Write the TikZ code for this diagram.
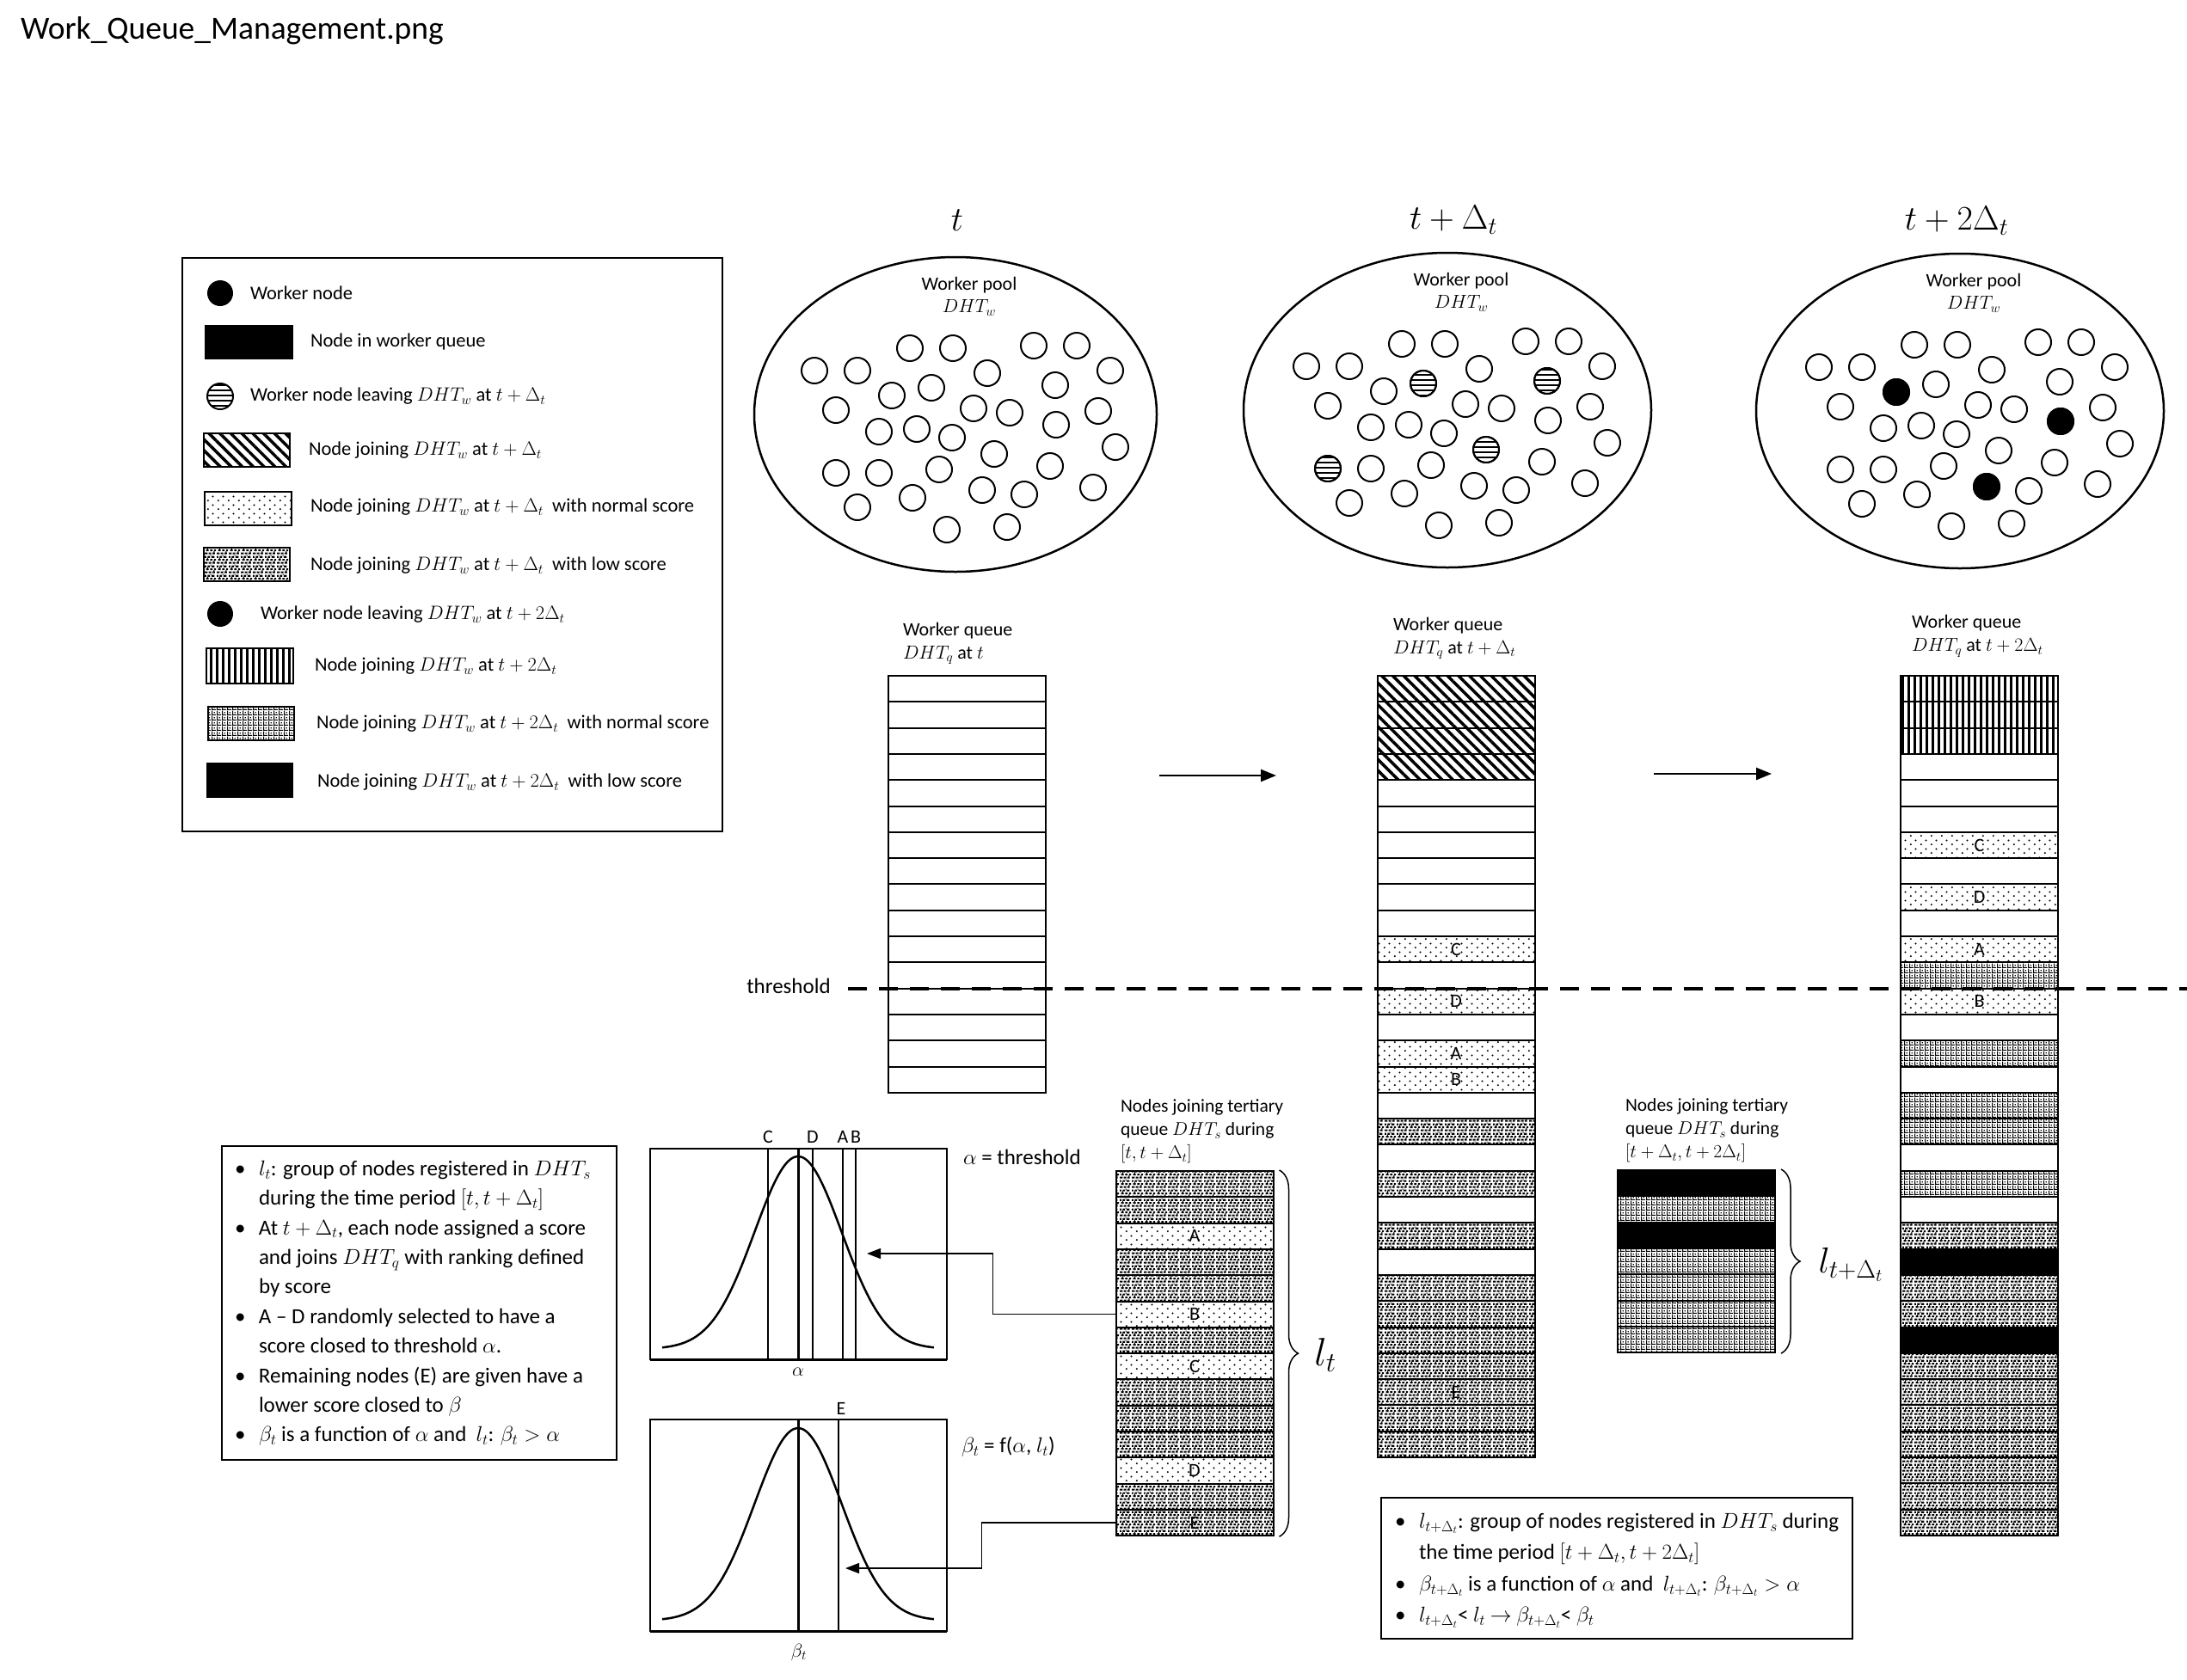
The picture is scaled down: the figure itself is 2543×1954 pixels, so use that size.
\documentclass[tikz,border=0pt]{standalone}
\usepackage{fix-cm}
\usepackage{fontspec}
\setmainfont{Carlito}
\usepackage{amsmath}
\usetikzlibrary{positioning, patterns, patterns.meta, arrows.meta, decorations.pathreplacing}

\pgfdeclarepatternformonly{sparsedots}{\pgfqpoint{0pt}{0pt}}{\pgfqpoint{12pt}{10pt}}{\pgfqpoint{12pt}{10pt}}{%
  \pgfpathcircle{\pgfqpoint{2pt}{2pt}}{1.2pt}%
  \pgfpathcircle{\pgfqpoint{8pt}{7pt}}{1.2pt}%
  \pgfusepath{fill}%
}
\pgfdeclarepatternformonly{confetti}{\pgfqpoint{0pt}{0pt}}{\pgfqpoint{14pt}{11pt}}{\pgfqpoint{14pt}{11pt}}{%
  \pgfpathrectangle{\pgfqpoint{0pt}{0.3pt}}{\pgfqpoint{3.5pt}{2.2pt}}%
  \pgfpathrectangle{\pgfqpoint{5pt}{0.3pt}}{\pgfqpoint{3pt}{2.2pt}}%
  \pgfpathrectangle{\pgfqpoint{9.5pt}{0.3pt}}{\pgfqpoint{3pt}{2.2pt}}%
  \pgfpathrectangle{\pgfqpoint{1.8pt}{4pt}}{\pgfqpoint{3pt}{2.2pt}}%
  \pgfpathrectangle{\pgfqpoint{6.8pt}{4pt}}{\pgfqpoint{3pt}{2.2pt}}%
  \pgfpathrectangle{\pgfqpoint{11.5pt}{4pt}}{\pgfqpoint{2.5pt}{2.2pt}}%
  \pgfpathrectangle{\pgfqpoint{0pt}{7.7pt}}{\pgfqpoint{2pt}{2.2pt}}%
  \pgfpathrectangle{\pgfqpoint{3.5pt}{7.7pt}}{\pgfqpoint{3pt}{2.2pt}}%
  \pgfpathrectangle{\pgfqpoint{8.5pt}{7.7pt}}{\pgfqpoint{3.5pt}{2.2pt}}%
  \pgfpathrectangle{\pgfqpoint{11pt}{2.5pt}}{\pgfqpoint{1.2pt}{1.5pt}}%
  \pgfpathrectangle{\pgfqpoint{3pt}{6.2pt}}{\pgfqpoint{1.2pt}{1.5pt}}%
  \pgfpathrectangle{\pgfqpoint{7pt}{9.9pt}}{\pgfqpoint{1.2pt}{1.1pt}}%
  \pgfusepath{fill}%
}
\pgfdeclarepatternformonly{plaid}{\pgfqpoint{0pt}{0pt}}{\pgfqpoint{6pt}{6pt}}{\pgfqpoint{6pt}{6pt}}{%
  \pgfpathrectangle{\pgfqpoint{0pt}{0pt}}{\pgfqpoint{6pt}{1.4pt}}%
  \pgfpathrectangle{\pgfqpoint{0pt}{0pt}}{\pgfqpoint{1.4pt}{6pt}}%
  \pgfpathrectangle{\pgfqpoint{3pt}{3pt}}{\pgfqpoint{1.5pt}{1.5pt}}%
  \pgfusepath{fill}%
}

\newcommand{\notebullet}{\makebox[28pt][l]{\textbullet}}
\newcommand{\noteindent}{\hspace*{28pt}}

\begin{document}
\begin{tikzpicture}[
    x=1pt, y=-1pt,
    font=\fontsize{22.5}{27}\selectfont,
    line width=2pt,
    every node/.style={inner sep=0pt},
    hatch fill/.style={pattern={Lines[angle=-45,distance=9pt,line width=3.5pt]}},
    dot fill/.style={pattern=sparsedots},
    low fill/.style={pattern=confetti},
    vbar fill/.style={pattern={Lines[angle=90,distance=7pt,line width=3pt]}},
    grid fill/.style={pattern=plaid},
    stripe fill/.style={pattern={Lines[angle=0,distance=6pt,line width=1.5pt]}},
    cell/.style={draw, rectangle, minimum width=183pt, minimum height=30.3pt, font=\fontsize{22}{26}\selectfont},
    empty cell/.style={cell},
    hatch cell/.style={cell, hatch fill},
    dot cell/.style={cell, dot fill},
    low cell/.style={cell, low fill},
    vbar cell/.style={cell, vbar fill},
    grid cell/.style={cell, grid fill},
    black cell/.style={cell, fill=black},
    pool/.style={line width=2.5pt},
    worker/.style={line width=2pt},
    arrow/.style={->, >={Triangle[length=18pt,width=14pt]}, line width=2.5pt},
    thin arrow/.style={->, >={Triangle[length=16pt,width=12pt]}, line width=1.3pt},
    frame/.style={line width=1.5pt},
    curve/.style={line width=2.5pt},
    threshold line/.style={dash pattern=on 22pt off 14pt, line width=4.5pt},
    brace/.style={decorate, decoration={brace, amplitude=22pt}, line width=1.5pt},
    note/.style={anchor=north west, align=left, font=\fontsize{25}{34.4}\selectfont},
    time label/.style={font=\fontsize{40}{46}\selectfont},
    small label/.style={font=\fontsize{22}{26}\selectfont}
]

\path[use as bounding box, fill=white] (0,0) rectangle (2543,1954);

\node[anchor=west, font=\fontsize{37.5}{44}\selectfont] (title) at (23,36) {Work\_Queue\_Management.png};

\draw (212,300) rectangle (840,967);
\fill (256,341) circle [radius=15];
\node[anchor=west] (leg-worker) at (290,341) {Worker node};
\fill (238,378) rectangle (341,418);
\node[anchor=west] (leg-queue) at (360,397) {Node in worker queue};
\draw[stripe fill] (256,461) circle [radius=15];
\node[anchor=west] (leg-leave1) at (290,461) {Worker node leaving $DHT_w$ at $t+\Delta_t$};
\draw[hatch fill] (237,504) rectangle (337,543);
\node[anchor=west] (leg-join1) at (358,524) {Node joining $DHT_w$ at $t+\Delta_t$};
\draw[dot fill] (238,572) rectangle (339,611);
\node[anchor=west] (leg-norm1) at (360,590) {Node joining $DHT_w$ at $t+\Delta_t$\ \ with normal score};
\draw[low fill] (237,637) rectangle (337,676);
\node[anchor=west] (leg-low1) at (360,658) {Node joining $DHT_w$ at $t+\Delta_t$\ \ with low score};
\fill (256,714) circle [radius=15];
\node[anchor=west] (leg-leave2) at (302,715) {Worker node leaving $DHT_w$ at $t+2\Delta_t$};
\draw[vbar fill] (240,754) rectangle (341,795);
\node[anchor=west] (leg-join2) at (365,775) {Node joining $DHT_w$ at $t+2\Delta_t$};
\draw[grid fill] (242,822) rectangle (342,861);
\node[anchor=west] (leg-norm2) at (367,842) {Node joining $DHT_w$ at $t+2\Delta_t$\ \ with normal score};
\fill (240,887) rectangle (341,928);
\node[anchor=west] (leg-low2) at (368,910) {Node joining $DHT_w$ at $t+2\Delta_t$\ \ with low score};

\node[time label] (time-1) at (1113,256) {$t$};
\node[time label] (time-2) at (1690,256) {$t+\Delta_t$};
\node[time label] (time-3) at (2275,257) {$t+2\Delta_t$};

\foreach \cx/\cy/\rx [count=\p] in {1111/482/234,1683/477/237,2279/478/237}{
    \draw[pool] (\cx,\cy) ellipse [x radius=\rx, y radius=183];
    \node[align=center, font=\fontsize{22}{26}\selectfont] (pool-\p) at ({\cx+16},{\cy-137}) {Worker pool\\$DHT_w$};
    \foreach \dx/\dy in {-53/-77,-3/-77,91/-80,141/-80,-164/-51,-114/-51,37/-48,180/-51,-28/-31,-74/-22,116/-34,-139/-5,21/-7,63/-2,166/-4,-89/20,-45/17,-4/27,117/12,45/46,186/38,-139/68,-89/68,-19/64,110/60,31/88,80/93,160/85,-114/108,-50/97,-10/134,60/131}
        \draw[worker] ({\cx+\dx},{\cy+\dy}) circle [radius=15];
}
\foreach \dx/\dy in {-28/-31,116/-34,45/46,-139/68}
    \draw[worker, stripe fill] ({1683+\dx},{477+\dy}) circle [radius=15];
\foreach \dx/\dy in {-74/-22,117/12,31/88}
    \fill ({2279+\dx},{478+\dy}) circle [radius=16];

\node[anchor=west, align=left, font=\fontsize{22}{27}\selectfont] (wq-1) at (1049,748) {Worker queue\\$DHT_q$ at $t$};
\node[anchor=west, align=left, font=\fontsize{22}{27}\selectfont] (wq-2) at (1619,742) {Worker queue\\$DHT_q$ at $t+\Delta_t$};
\node[anchor=west, align=left, font=\fontsize{22}{27}\selectfont] (wq-3) at (2222,740) {Worker queue\\$DHT_q$ at $t+2\Delta_t$};

\foreach \i in {0,...,15}
    \node[empty cell] (q1-\i) at (1124.5,{801.15+30.3*\i}) {};
\foreach \s/\l [count=\i from 0] in {hatch cell/,hatch cell/,hatch cell/,hatch cell/,empty cell/,empty cell/,empty cell/,empty cell/,empty cell/,empty cell/,dot cell/C,empty cell/,dot cell/D,empty cell/,dot cell/A,dot cell/B,empty cell/,low cell/,empty cell/,low cell/,empty cell/,low cell/,empty cell/,low cell/,low cell/,low cell/,low cell/,low cell/E,low cell/,low cell/}
    \node[\s] (q2-\i) at (1693,{801.15+30.3*\i}) {\l};
\foreach \s/\l [count=\i from 0] in {vbar cell/,vbar cell/,vbar cell/,empty cell/,empty cell/,empty cell/,dot cell/C,empty cell/,dot cell/D,empty cell/,dot cell/A,grid cell/,dot cell/B,empty cell/,grid cell/,empty cell/,grid cell/,grid cell/,empty cell/,grid cell/,empty cell/,low cell/,black cell/,low cell/,low cell/,black cell/,low cell/,low cell/,low cell/,low cell/,low cell/,low cell/,low cell/}
    \node[\s] (q3-\i) at (2301.5,{801.15+30.3*\i}) {\l};

\coordinate (step-1a) at (1348,902);
\coordinate (step-1b) at (1484,902);
\coordinate (step-2a) at (1923,900);
\coordinate (step-2b) at (2060,900);
\draw[arrow] (step-1a) -- (step-1b);
\draw[arrow] (step-2a) -- (step-2b);

\node[font=\fontsize{25}{30}\selectfont] (thr) at (917,1147) {threshold};
\coordinate (thr-a) at (986,1150);
\coordinate (thr-b) at (2543,1150);
\draw[threshold line] (thr-a) -- (thr-b);

\node[anchor=west, align=left, font=\fontsize{21.5}{27}\selectfont] (ts-1) at (1302,1316) {Nodes joining tertiary\\queue $DHT_s$ during\\$[t, t+\Delta_t]$};
\foreach \s/\l [count=\i from 0] in {low cell/,low cell/,dot cell/A,low cell/,low cell/,dot cell/B,low cell/,dot cell/C,low cell/,low cell/,low cell/,dot cell/D,low cell/,low cell/E}
    \node[\s] (t1-\i) at (1389,{1377.15+30.3*\i}) {\l};
\draw[brace] ([xshift=6pt]t1-0.north east) -- ([xshift=6pt]t1-13.south east);
\node[font=\fontsize{46}{52}\selectfont] (l-t) at (1541,1576) {$l_t$};

\node[anchor=west, align=left, font=\fontsize{21.5}{27}\selectfont] (ts-2) at (1889,1315) {Nodes joining tertiary\\queue $DHT_s$ during\\$[t+\Delta_t, t+2\Delta_t]$};
\foreach \s [count=\i from 0] in {black cell,grid cell,black cell,grid cell,grid cell,grid cell,grid cell}
    \node[\s] (t2-\i) at (1972.5,{1376.15+30.3*\i}) {};
\draw[brace] ([xshift=6pt]t2-0.north east) -- ([xshift=6pt]t2-6.south east);
\node[font=\fontsize{42}{48}\selectfont] (l-t2) at (2152,1471) {$l_{t+\Delta_t}$};

\draw[frame] (756,1336) rectangle (1101,1581);
\draw[line width=3pt] (756,1581) -- (1101,1581);
\draw[curve] plot[domain=-1.58:1.58, samples=90, smooth] ({928+100*\x},{1569-224*exp(-1.945*\x*\x)});
\draw[line width=3pt] (928,1336) -- (928,1581);
\foreach \px/\nm in {893/C,945/D,980/A,995/B}{
    \draw[frame] (\px,1336) -- (\px,1581);
    \node[small label] (mark-\nm) at (\px,1322) {\nm};
}
\node[small label] (alpha) at (928,1596) {$\alpha$};
\node[anchor=west, font=\fontsize{25}{30}\selectfont] (alpha-def) at (1119,1346) {$\alpha$ = threshold};

\draw[frame] (756,1651) rectangle (1101,1897);
\draw[line width=3pt] (756,1897) -- (1101,1897);
\draw[curve] plot[domain=-1.58:1.58, samples=90, smooth] ({928+100*\x},{1885-224*exp(-1.945*\x*\x)});
\draw[line width=3pt] (928,1651) -- (928,1897);
\draw[frame] (975,1651) -- (975,1897);
\node[small label] (mark-E) at (978,1638) {E};
\node[small label] (beta) at (929,1922) {$\beta_t$};
\node[anchor=west, font=\fontsize{25}{30}\selectfont] (beta-def) at (1117,1683) {$\beta_t$ = f($\alpha$, $l_t$)};

\coordinate (alpha-tip) at (1008,1458);
\coordinate (beta-tip) at (983,1824);
\draw[thin arrow] (t1-5.west) -- ++(-142,0) |- (alpha-tip);
\draw[thin arrow] (t1-13.west) -- ++(-155,0) |- (beta-tip);

\draw (258,1333) rectangle (717,1698);
\node[note] (notes-1) at (272,1349) {%
\notebullet$l_t$: group of nodes registered in $DHT_s$\\
\noteindent during the time period $[t, t+\Delta_t]$\\
\notebullet At $t+\Delta_t$, each node assigned a score\\
\noteindent and joins $DHT_q$ with ranking defined\\
\noteindent by score\\
\notebullet A -- D randomly selected to have a\\
\noteindent score closed to threshold $\alpha$.\\
\notebullet Remaining nodes (E) are given have a\\
\noteindent lower score closed to $\beta$\\
\notebullet$\beta_t$ is a function of $\alpha$ and\ \ $l_t$: $\beta_t > \alpha$};

\draw (1606,1742) rectangle (2154,1906);
\node[note, font=\fontsize{25}{36.5}\selectfont] (notes-2) at (1621,1759) {%
\notebullet$l_{t+\Delta_t}$: group of nodes registered in $DHT_s$ during\\
\noteindent the time period $[t+\Delta_t, t+2\Delta_t]$\\
\notebullet$\beta_{t+\Delta_t}$ is a function of $\alpha$ and\ \ $l_{t+\Delta_t}$: $\beta_{t+\Delta_t} > \alpha$\\
\notebullet$l_{t+\Delta_t}$< $l_t$ $\rightarrow$ $\beta_{t+\Delta_t}$< $\beta_t$};

\end{tikzpicture}
\end{document}
